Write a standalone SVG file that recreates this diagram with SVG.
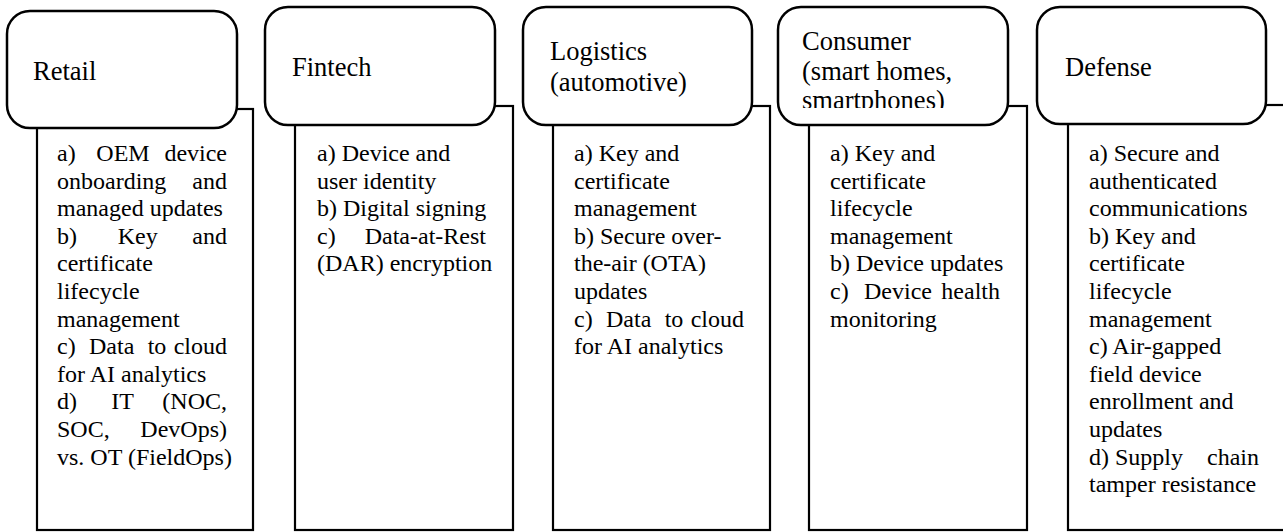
<svg xmlns="http://www.w3.org/2000/svg" width="1283" height="532" viewBox="0 0 1283 532">
<style>
.hdr{fill:#fff;stroke:#000;stroke-width:2.5}
.box{fill:#fff;stroke:#000;stroke-width:2.2}
.ht{font-family:"Liberation Serif","Times New Roman",serif;font-size:26.5px;fill:#000}
.bt{font-family:"Liberation Serif","Times New Roman",serif;font-size:24px;fill:#000}
.e{text-anchor:end}
</style>
<defs>
<clipPath id="clipConsumer"><rect x="778" y="7" width="230" height="101"/></clipPath>
</defs>
<rect width="1283" height="532" fill="#fff"/>
<g id="connectors"/>

<g id="retail">
<rect class="box" x="37" y="109" width="216" height="421"/>
<rect class="hdr" x="7" y="11" width="230" height="117" rx="23"/>
<text class="ht" x="33" y="80">Retail</text>
<text class="bt">
<tspan x="57" y="161">a)</tspan><tspan x="96.3" y="161">OEM</tspan><tspan x="233" y="161" class="e">device</tspan>
<tspan x="57" y="188.6">onboarding</tspan><tspan x="233" y="188.6" class="e">and</tspan>
<tspan x="57" y="216.2">managed updates</tspan>
<tspan x="57" y="243.8">b)</tspan><tspan x="117.7" y="243.8">Key</tspan><tspan x="233" y="243.8" class="e">and</tspan>
<tspan x="57" y="271.4">certificate</tspan>
<tspan x="57" y="299">lifecycle</tspan>
<tspan x="57" y="326.6">management</tspan>
<tspan x="57" y="354.2">c)</tspan><tspan x="89" y="354.2">Data</tspan><tspan x="147.7" y="354.2">to</tspan><tspan x="233" y="354.2" class="e">cloud</tspan>
<tspan x="57" y="381.8">for AI analytics</tspan>
<tspan x="57" y="409.4">d)</tspan><tspan x="111.3" y="409.4">IT</tspan><tspan x="233" y="409.4" class="e">(NOC,</tspan>
<tspan x="57" y="437">SOC,</tspan><tspan x="233" y="437" class="e">DevOps)</tspan>
<tspan x="57" y="464.6">vs. OT (FieldOps)</tspan>
</text>
</g>

<g id="fintech">
<rect class="box" x="295" y="106" width="218" height="424"/>
<rect class="hdr" x="265" y="7" width="230" height="118" rx="23"/>
<text class="ht" x="292" y="76">Fintech</text>
<text class="bt">
<tspan x="317" y="161">a) Device and</tspan>
<tspan x="317" y="188.6">user identity</tspan>
<tspan x="317" y="216.2">b) Digital signing</tspan>
<tspan x="317" y="243.8">c)</tspan><tspan x="492" y="243.8" class="e">Data-at-Rest</tspan>
<tspan x="317" y="271.4">(DAR) encryption</tspan>
</text>
</g>

<g id="logistics">
<rect class="box" x="553" y="106" width="217" height="424"/>
<rect class="hdr" x="523" y="7" width="229" height="118" rx="23"/>
<text class="ht"><tspan x="550" y="60">Logistics</tspan><tspan x="550" y="91">(automotive)</tspan></text>
<text class="bt">
<tspan x="574" y="161">a) Key and</tspan>
<tspan x="574" y="188.6">certificate</tspan>
<tspan x="574" y="216.2">management</tspan>
<tspan x="574" y="243.8">b) Secure over-</tspan>
<tspan x="574" y="271.4">the-air (OTA)</tspan>
<tspan x="574" y="299">updates</tspan>
<tspan x="574" y="326.6">c)</tspan><tspan x="606" y="326.6">Data</tspan><tspan x="664.7" y="326.6">to</tspan><tspan x="750" y="326.6" class="e">cloud</tspan>
<tspan x="574" y="354.2">for AI analytics</tspan>
</text>
</g>

<g id="consumer">
<rect class="box" x="809" y="106" width="218" height="424"/>
<rect class="hdr" x="778" y="7" width="230" height="118" rx="23"/>
<text class="ht" clip-path="url(#clipConsumer)"><tspan x="802" y="50">Consumer</tspan><tspan x="802" y="79.5">(smart homes,</tspan><tspan x="802" y="109">smartphones)</tspan></text>
<text class="bt">
<tspan x="830" y="161">a) Key and</tspan>
<tspan x="830" y="188.6">certificate</tspan>
<tspan x="830" y="216.2">lifecycle</tspan>
<tspan x="830" y="243.8">management</tspan>
<tspan x="830" y="271.4">b) Device updates</tspan>
<tspan x="830" y="299">c)</tspan><tspan x="864" y="299">Device</tspan><tspan x="1006" y="299" class="e">health</tspan>
<tspan x="830" y="326.6">monitoring</tspan>
</text>
</g>

<g id="defense">
<rect class="box" x="1068" y="105" width="218" height="425"/>
<rect class="hdr" x="1037" y="7" width="229" height="117" rx="23"/>
<text class="ht" x="1065" y="76">Defense</text>
<text class="bt">
<tspan x="1089" y="161">a) Secure and</tspan>
<tspan x="1089" y="188.6">authenticated</tspan>
<tspan x="1089" y="216.2">communications</tspan>
<tspan x="1089" y="243.8">b) Key and</tspan>
<tspan x="1089" y="271.4">certificate</tspan>
<tspan x="1089" y="299">lifecycle</tspan>
<tspan x="1089" y="326.6">management</tspan>
<tspan x="1089" y="354.2">c) Air-gapped</tspan>
<tspan x="1089" y="381.8">field device</tspan>
<tspan x="1089" y="409.4">enrollment and</tspan>
<tspan x="1089" y="437">updates</tspan>
<tspan x="1089" y="464.6">d) Supply</tspan><tspan x="1265" y="464.6" class="e">chain</tspan>
<tspan x="1089" y="492.2">tamper resistance</tspan>
</text>
</g>
</svg>
